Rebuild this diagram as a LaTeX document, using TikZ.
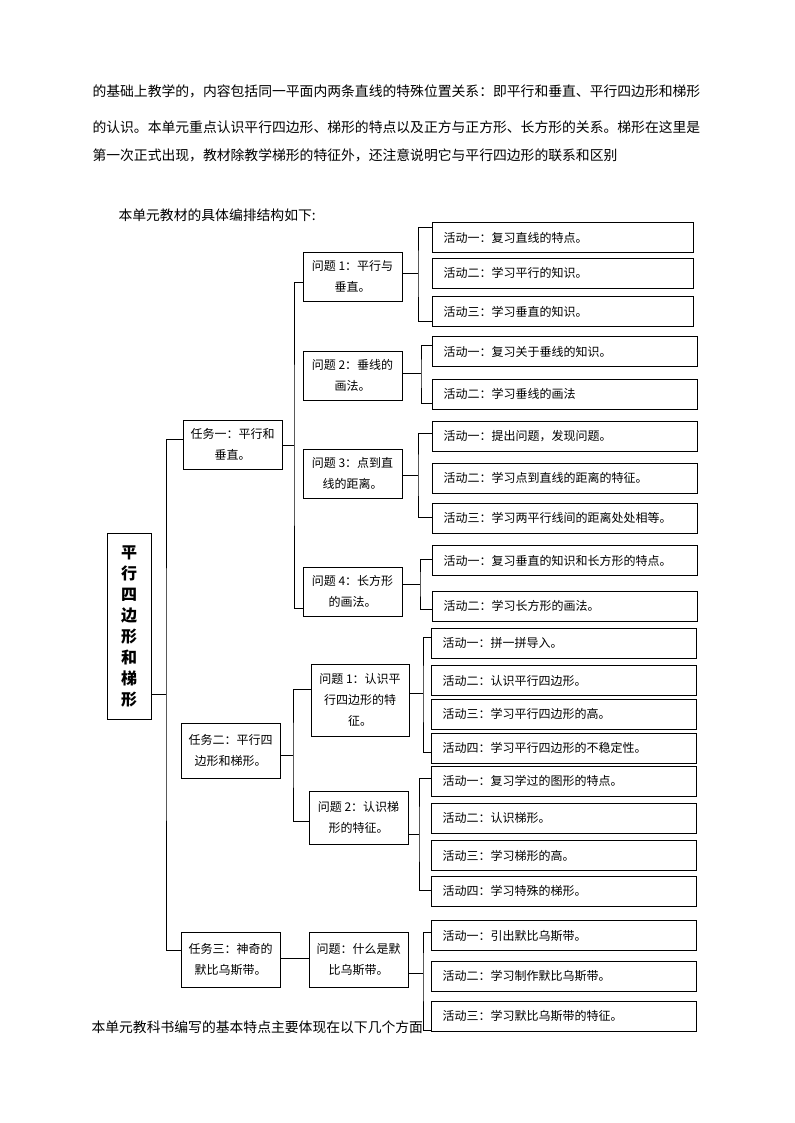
\documentclass[tikz,border=0pt]{standalone}
\usepackage{fontspec}
\setmainfont{Noto Sans CJK SC}
\begin{document}
\begin{tikzpicture}[x=0.75pt,y=-0.75pt,line width=0.75pt]
\tikzset{
  para/.style={anchor=west, inner sep=0pt, font=\fontsize{10.36}{12}\selectfont},
  act/.style={draw, anchor=west, align=left, inner xsep=8.25pt, inner ysep=0pt, minimum height=22.5pt, font=\fontsize{9}{11}\selectfont},
  actA/.style={act, text width=179.25pt},
  actB/.style={act, text width=182.25pt},
  qbox/.style={draw, align=center, inner sep=0pt, minimum width=74.25pt, font=\fontsize{9}{15.5}\selectfont},
  rootbox/.style={draw, align=center, inner sep=0pt, minimum width=33pt, minimum height=139.5pt, font=\bfseries\fontsize{12}{15.75}\selectfont}
}
\useasboundingbox (0,0) rectangle (794,1123);

% paragraph text
\node[para] (l1) at (92,91) {的基础上教学的，内容包括同一平面内两条直线的特殊位置关系：即平行和垂直、平行四边形和梯形};
\node[para] (l2) at (92,127) {的认识。本单元重点认识平行四边形、梯形的特点以及正方与正方形、长方形的关系。梯形在这里是};
\node[para] (l3) at (92,155) {第一次正式出现，教材除教学梯形的特征外，还注意说明它与平行四边形的联系和区别};
\node[para] (l4) at (118,215) {本单元教材的具体编排结构如下:};
\node[para] (l5) at (91,1027) {本单元教科书编写的基本特点主要体现在以下几个方面};

% root
\node[rootbox] (root) at (129,626) {平\\行\\四\\边\\形\\和\\梯\\形};

% tasks
\node[qbox, minimum height=36.75pt] (t1) at (232.5,444.5) {任务一：平行和\\垂直。};
\node[qbox, minimum height=41.25pt] (t2) at (230.5,750.5) {任务二：平行四\\边形和梯形。};
\node[qbox, minimum height=41.25pt] (t3) at (230.5,959.5) {任务三：神奇的\\默比乌斯带。};

% questions
\node[qbox, minimum height=36.75pt] (q1) at (352.5,276.5) {问题 1：平行与\\垂直。};
\node[qbox, minimum height=36.75pt] (q2) at (352.5,375.5) {问题 2：垂线的\\画法。};
\node[qbox, minimum height=36.75pt] (q3) at (352.5,473.5) {问题 3：点到直\\线的距离。};
\node[qbox, minimum height=36.75pt] (q4) at (352.5,591.5) {问题 4：长方形\\的画法。};
\node[qbox, minimum width=73.5pt, minimum height=54pt] (p1) at (360,700) {问题 1：认识平\\行四边形的特\\征。};
\node[qbox, minimum height=39.75pt] (p2) at (358.5,817.5) {问题 2：认识梯\\形的特征。};
\node[qbox, minimum height=41.25pt] (r1) at (358.5,959.5) {问题：什么是默\\比乌斯带。};

% activities
\node[actA] (a11) at (432,237.5) {活动一：复习直线的特点。};
\node[actA] (a12) at (432,273) {活动二：学习平行的知识。};
\node[actA] (a13) at (432,311.5) {活动三：学习垂直的知识。};
\node[actB] (a21) at (432,351.5) {活动一：复习关于垂线的知识。};
\node[actB] (a22) at (432,394) {活动二：学习垂线的画法};
\node[actB] (a31) at (432,436) {活动一：提出问题，发现问题。};
\node[actB] (a32) at (432,478) {活动二：学习点到直线的距离的特征。};
\node[actB] (a33) at (432,518) {活动三：学习两平行线间的距离处处相等。};
\node[actB] (a41) at (432,560.5) {活动一：复习垂直的知识和长方形的特点。};
\node[actB] (a42) at (432,606) {活动二：学习长方形的画法。};
\node[actB] (b11) at (431,643) {活动一：拼一拼导入。};
\node[actB] (b12) at (431,680.5) {活动二：认识平行四边形。};
\node[actB] (b13) at (431,714) {活动三：学习平行四边形的高。};
\node[actB] (b14) at (431,748) {活动四：学习平行四边形的不稳定性。};
\node[actB] (b21) at (431,781) {活动一：复习学过的图形的特点。};
\node[actB] (b22) at (431,818) {活动二：认识梯形。};
\node[actB] (b23) at (431,855.5) {活动三：学习梯形的高。};
\node[actB] (b24) at (431,891) {活动四：学习特殊的梯形。};
\node[actB] (c1) at (431,935.5) {活动一：引出默比乌斯带。};
\node[actB] (c2) at (431,976) {活动二：学习制作默比乌斯带。};
\node[actB] (c3) at (431,1016) {活动三：学习默比乌斯带的特征。};

% bracket spines
\coordinate (rs) at (166,694);
\coordinate (s1) at (294,445);
\coordinate (s2) at (293,755);
\coordinate (sq1) at (418,273);
\coordinate (sq2) at (421,373);
\coordinate (sq3) at (418,475);
\coordinate (sq4) at (420,584);
\coordinate (sp1) at (423,693);
\coordinate (sp2) at (419,834);
\coordinate (sr1) at (423,973);

% connectors
\draw (t1.west |- 0,439) -| (rs) |- (t3.west |- 0,950);
\draw (root.east |- rs) -- (rs);
\draw (q1.west |- 0,282) -| (s1) |- (q4.west |- 0,608);
\draw (t1.east |- s1) -- (s1);
\draw (p1.west |- 0,689) -| (s2) |- (p2.west |- 0,821);
\draw (t2.east |- s2) -- (s2);
\draw (t3.east |- 0,958) -- (r1.west |- 0,958);

\draw (a11.west |- 0,228) -| (sq1) |- (a13.west |- 0,321);
\draw (q1.east |- sq1) -- (sq1);
\draw (a21.west |- 0,345) -| (sq2) |- (a22.west |- 0,403);
\draw (q2.east |- sq2) -- (sq2);
\draw (a31.west |- 0,433) -| (sq3) |- (a33.west |- 0,517);
\draw (q3.east |- sq3) -- (sq3);
\draw (a41.west |- 0,559) -| (sq4) |- (a42.west |- 0,609);
\draw (q4.east |- sq4) -- (sq4);
\draw (b11.west |- 0,637) -| (sp1) |- (b14.west |- 0,752);
\draw (p1.east |- sp1) -- (sp1);
\draw (b21.west |- 0,778) -| (sp2) |- (b24.west |- 0,890);
\draw (p2.east |- sp2) -- (sp2);
\draw (c1.west |- 0,932) -| (sr1) |- (c3.west |- 0,1030);
\draw (r1.east |- sr1) -- (sr1);
\end{tikzpicture}
\end{document}
